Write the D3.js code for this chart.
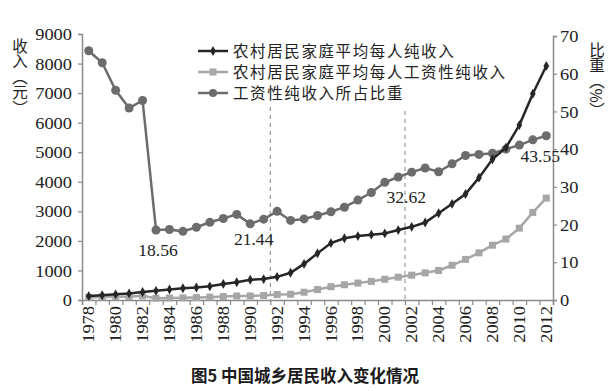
<!DOCTYPE html>
<html>
<head>
<meta charset="utf-8">
<script src="https://cdn.jsdelivr.net/npm/d3@7/dist/d3.min.js"></script>
<style>
  html, body { margin: 0; padding: 0; background: #fff; }
  svg { display: block; }
</style>
</head>
<body>
<svg id="chart" width="616" height="391"></svg>
<script>
// ---- data ----
const years = d3.range(1978, 2013);
const netIncome = [133.6,160.2,191.3,223.4,270.1,309.8,355.3,397.6,423.8,462.6,544.9,601.5,686.3,708.6,784.0,921.6,1221.0,1577.7,1926.1,2090.1,2162.0,2210.3,2253.4,2366.4,2475.6,2622.2,2936.4,3254.9,3587.0,4140.4,4760.6,5153.2,5919.0,6977.3,7916.6];
const wageIncome = [88.3,100.7,106.4,113.8,142.9,57.5,66.5,72.2,81.6,95.5,117.8,136.5,138.8,151.9,184.4,194.5,263.0,353.7,450.8,514.6,573.6,630.3,702.3,771.9,840.2,918.4,998.5,1174.5,1374.8,1596.2,1853.7,2061.3,2431.1,2963.4,3447.5];
const wageShare = [66.1,62.9,55.6,50.9,52.9,18.56,18.7,18.2,19.3,20.6,21.6,22.7,20.2,21.44,23.5,21.1,21.5,22.4,23.4,24.6,26.5,28.5,31.2,32.62,33.9,35.0,34.0,36.1,38.3,38.6,38.9,40.0,41.07,42.47,43.55];
const leftTicks = [0,1000,2000,3000,4000,5000,6000,7000,8000,9000];
const rightTicks = [0,10,20,30,40,50,60,70];
const xLabelYears = d3.range(1978, 2013, 2);
const labeledYears = [1983, 1991, 2001, 2012];
const dashedAfterYears = [1991, 2001];
const seriesNames = ["农村居民家庭平均每人纯收入", "农村居民家庭平均每人工资性纯收入", "工资性纯收入所占比重"];
const leftTitle = "收入（元）";
const rightTitle = "比重（%）";
const caption = "图5 中国城乡居民收入变化情况";

// ---- layout ----
const svg = d3.select("#chart");
const L = 82, R = 553, T = 34, B = 300;
const serif = "'Liberation Serif', 'Times New Roman', serif";
const sans = "'Noto Sans CJK SC', 'Noto Sans', sans-serif";
const axisColor = "#8a8a8a";
const textColor = "#222";

const x = d3.scaleBand().domain(years).range([L, R]).padding(0);
const xc = y => x(y) + x.bandwidth() / 2;
const yL = d3.scaleLinear().domain([0, 9000]).range([B, T]);
const yR = d3.scaleLinear().domain([0, 70]).range([B, 36]);

// dashed reference lines
const dashTops = [107, 111];
dashedAfterYears.forEach((yr, i) => {
  const xx = x(yr) + x.bandwidth();
  svg.append("line").attr("x1", xx).attr("x2", xx).attr("y1", dashTops[i]).attr("y2", B)
    .attr("stroke", "#9a9a9a").attr("stroke-width", 1.2).attr("stroke-dasharray", "4,4");
});

// left axis
const gL = svg.append("g").attr("transform", `translate(${L},0)`)
  .call(d3.axisLeft(yL).tickValues(leftTicks).tickSize(4).tickFormat(d3.format("d")));
// right axis
const gR = svg.append("g").attr("transform", `translate(${R},0)`)
  .call(d3.axisRight(yR).tickValues(rightTicks).tickSize(4).tickFormat(d3.format("d")));
// bottom axis: boundary ticks
const xb = d3.scaleLinear().domain([0, years.length]).range([L, R]);
const gB = svg.append("g").attr("transform", `translate(0,${B})`)
  .call(d3.axisBottom(xb).tickValues(d3.range(years.length + 1)).tickSize(5).tickFormat(""));
// bottom labels
const gBL = svg.append("g").attr("transform", `translate(0,${B})`)
  .call(d3.axisBottom(x).tickValues(xLabelYears).tickSize(0));
gBL.select(".domain").remove();

[gL, gR, gB].forEach(g => {
  g.select(".domain").attr("stroke", axisColor).attr("stroke-width", 1.5);
  g.selectAll(".tick line").attr("stroke", axisColor).attr("stroke-width", 1.2);
});
gL.selectAll(".tick text").attr("x", 0).attr("dy", "0.35em")
  .attr("transform", "translate(-10,0) scale(1.15,1)")
  .attr("font-family", serif).attr("font-size", 16).attr("fill", textColor).attr("text-anchor", "end");
gR.selectAll(".tick text").attr("x", 0).attr("dy", "0.35em")
  .attr("transform", "translate(7,0) scale(1.15,1)")
  .attr("font-family", serif).attr("font-size", 16).attr("fill", textColor).attr("text-anchor", "start");
gBL.selectAll(".tick text").attr("x", 0).attr("y", 0).attr("dy", "0.35em")
  .attr("transform", "translate(0,6) rotate(-90) scale(1.15,1)")
  .attr("font-family", serif).attr("font-size", 16).attr("fill", textColor).attr("text-anchor", "end");

// axis titles (vertical writing)
svg.append("text").attr("x", 20).attr("y", 38)
  .style("writing-mode", "vertical-rl")
  .attr("font-family", sans).attr("font-size", 15.5).attr("fill", textColor)
  .text(leftTitle);
svg.append("text").attr("x", 597).attr("y", 42)
  .style("writing-mode", "vertical-rl")
  .attr("font-family", sans).attr("font-size", 15.5).attr("fill", textColor)
  .text(rightTitle);

// ---- series ----
const cShare = "#6c6c6c", cWage = "#a6a6a6", cIncome = "#262626";

// share (right axis)
svg.append("path").datum(wageShare)
  .attr("d", d3.line().x((d, i) => xc(years[i])).y(d => yR(d)))
  .attr("fill", "none").attr("stroke", cShare).attr("stroke-width", 2.5);
svg.selectAll(".sc").data(wageShare).join("circle")
  .attr("cx", (d, i) => xc(years[i])).attr("cy", d => yR(d)).attr("r", 4.5).attr("fill", cShare);

// wage income
svg.append("path").datum(wageIncome)
  .attr("d", d3.line().x((d, i) => xc(years[i])).y(d => yL(d)))
  .attr("fill", "none").attr("stroke", cWage).attr("stroke-width", 2.5);
svg.selectAll(".wq").data(wageIncome).join("rect")
  .attr("x", (d, i) => xc(years[i]) - 3.5).attr("y", d => yL(d) - 3.5)
  .attr("width", 7).attr("height", 7).attr("fill", cWage);

// net income
svg.append("path").datum(netIncome)
  .attr("d", d3.line().x((d, i) => xc(years[i])).y(d => yL(d)))
  .attr("fill", "none").attr("stroke", cIncome).attr("stroke-width", 2.5);
const diamond = d3.symbol().type(d3.symbolDiamond).size(28);
svg.selectAll(".nd").data(netIncome).join("path")
  .attr("transform", (d, i) => `translate(${xc(years[i])},${yL(d)})`)
  .attr("d", diamond).attr("fill", cIncome);

// data labels
const labelDx = [2, -10, 8, -6];
labeledYears.forEach((yr, i) => {
  const idx = years.indexOf(yr);
  const v = wageShare[idx];
  svg.append("text")
    .attr("transform", `translate(${xc(yr) + labelDx[i]},${yR(v) + 26}) scale(1.1,1)`)
    .attr("text-anchor", "middle")
    .attr("font-family", serif).attr("font-size", 16).attr("fill", textColor)
    .text(d3.format(".2f")(v));
});

// legend
const legendY = [51, 72, 93];
const legendColors = [cIncome, cWage, cShare];
seriesNames.forEach((name, i) => {
  const g = svg.append("g").attr("transform", `translate(198,${legendY[i]})`);
  g.append("line").attr("x1", 0).attr("x2", 30).attr("y1", 0).attr("y2", 0)
    .attr("stroke", legendColors[i]).attr("stroke-width", 2.5);
  if (i === 0) g.append("path").attr("transform", "translate(15,0)").attr("d", diamond).attr("fill", cIncome);
  if (i === 1) g.append("rect").attr("x", 11.5).attr("y", -3.5).attr("width", 7).attr("height", 7).attr("fill", cWage);
  if (i === 2) g.append("circle").attr("cx", 15).attr("cy", 0).attr("r", 4).attr("fill", cShare);
  g.append("text").attr("x", 35).attr("dy", "0.36em")
    .attr("font-family", sans).attr("font-size", 15.5).attr("letter-spacing", 1.6).attr("fill", textColor)
    .text(name);
});

// caption
svg.append("text").attr("x", 305).attr("y", 382).attr("text-anchor", "middle")
  .attr("font-family", sans).attr("font-size", 16.5).attr("font-weight", "bold").attr("fill", "#1a1a1a")
  .text(caption);
</script>
</body>
</html>
